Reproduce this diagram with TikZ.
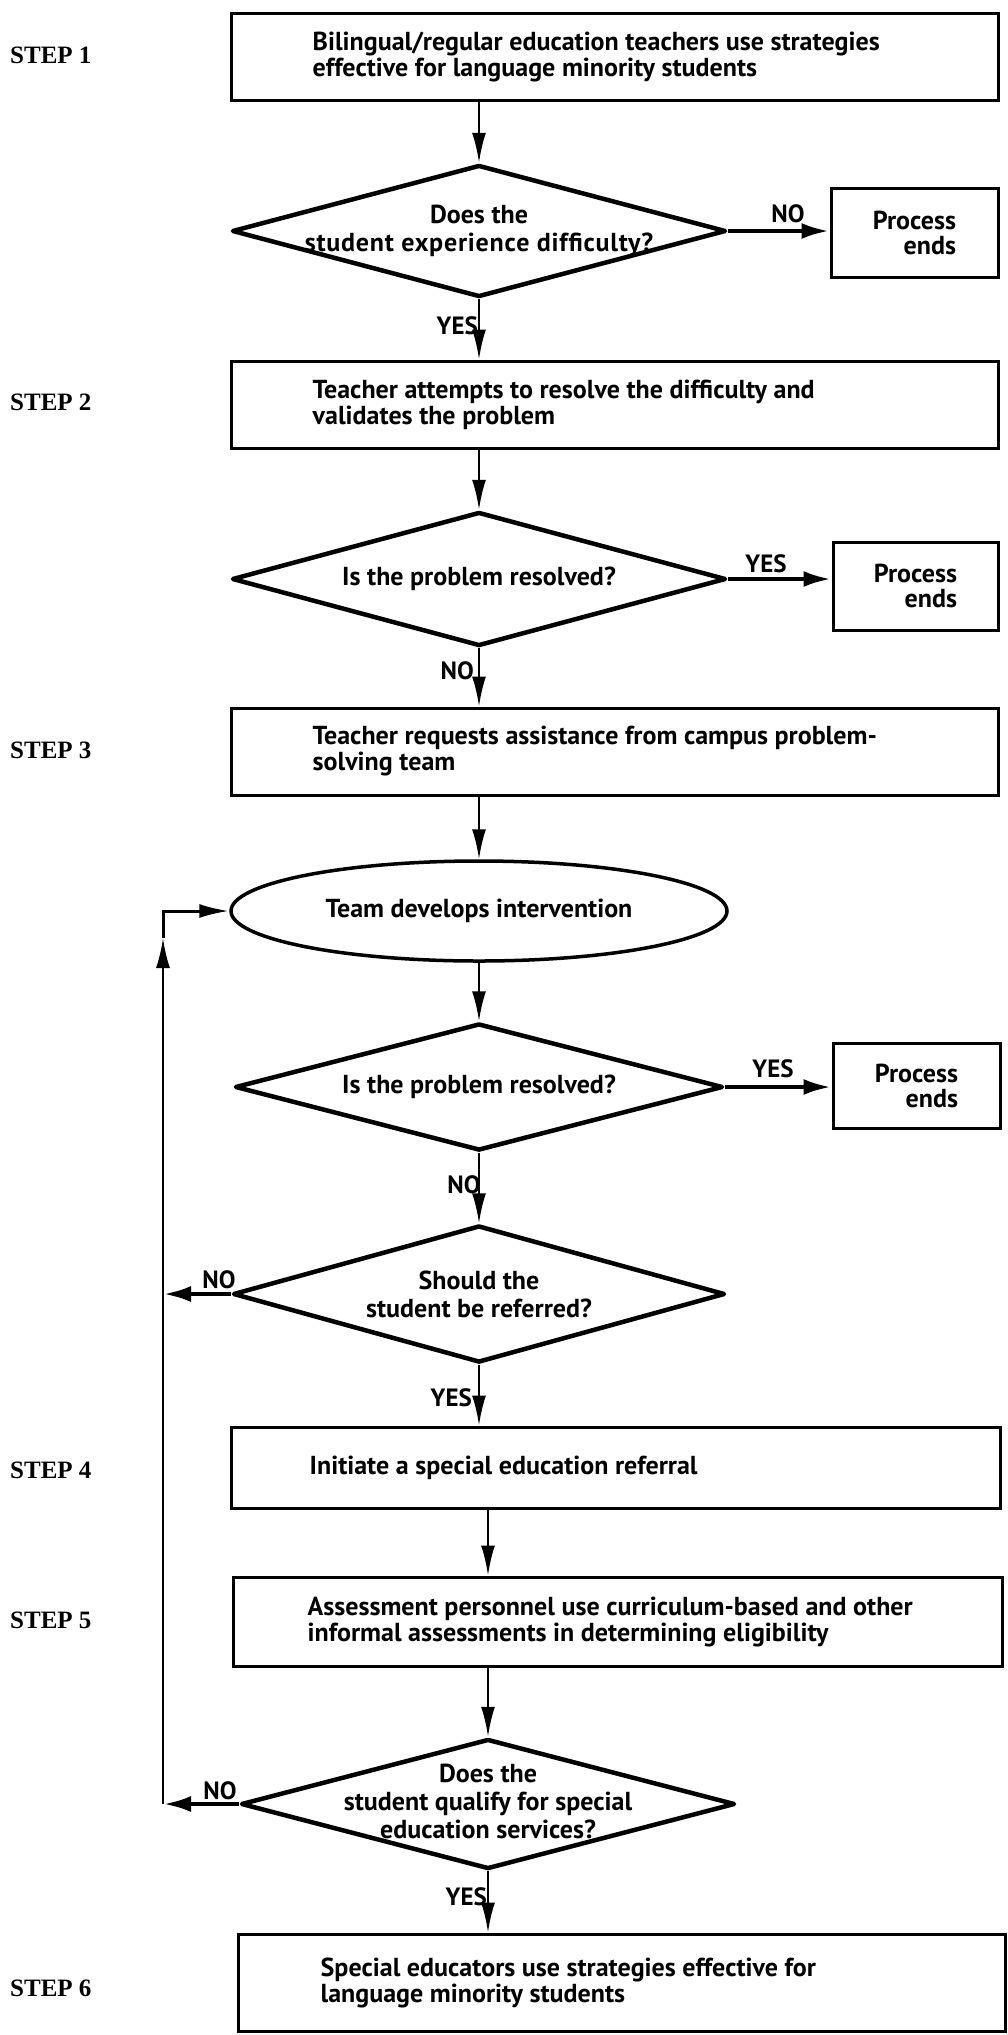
\documentclass[tikz,border=0pt]{standalone}
\usepackage{fontspec}
\setmainfont{PT Sans}
\newfontfamily\stepfont{Liberation Serif}
\usetikzlibrary{shapes.geometric,arrows.meta,calc}
\begin{document}
\begin{tikzpicture}[x=1pt,y=-1pt,
  font=\fontsize{26}{26}\selectfont\bfseries,
  box/.style={draw, line width=3pt, rectangle, inner sep=0pt},
  pebox/.style={draw, line width=3pt, rectangle, inner sep=0pt},
  dia/.style={draw, line width=4.5pt, diamond, inner sep=0pt, line join=round},
  ell/.style={draw, line width=3.5pt, ellipse, inner sep=0pt},
  ctxt/.style={align=center, inner sep=0pt, font=\fontsize{26}{28}\selectfont\bfseries},
  petxt/.style={align=right, inner sep=0pt, font=\fontsize{26}{25}\selectfont\bfseries},
  ltxt/.style={align=left, inner sep=0pt, anchor=west},
  steplbl/.style={font=\stepfont\fontsize{25}{30}\selectfont\bfseries, anchor=west, inner sep=0pt},
  vline/.style={line width=2.5pt, -{Latex[length=30pt,width=14pt]}},
  hline/.style={line width=4.5pt, -{Latex[length=28pt,width=16pt]}},
  yn/.style={inner sep=0pt, font=\fontsize{25}{25}\selectfont\bfseries},
]
\useasboundingbox (0,0) rectangle (1007,2035);
\fill[white] (0,0) rectangle (1007,2035);

% step labels
\node[steplbl] (s1) at (10,55) {STEP 1};
\node[steplbl] (s2) at (10,402) {STEP 2};
\node[steplbl] (s3) at (10,750) {STEP 3};
\node[steplbl] (s4) at (10,1470) {STEP 4};
\node[steplbl] (s5) at (10,1620) {STEP 5};
\node[steplbl] (s6) at (10,1988) {STEP 6};

% boxes
\node[box, minimum width=767, minimum height=87] (b1) at (614.5,56.5) {};
\node[ltxt] (t1) at ($(b1.west)+(83,0)$) {Bilingual/regular education teachers use strategies\\effective for language minority students};
\node[box, minimum width=767, minimum height=87] (b2) at (614.5,404.5) {};
\node[ltxt] (t2) at ($(b2.west)+(83,0)$) {Teacher attempts to resolve the difficulty and\\validates the problem};
\node[box, minimum width=767, minimum height=87] (b3) at (614.5,751.5) {};
\node[ltxt] (t3) at ($(b3.west)+(83,0)$) {Teacher requests assistance from campus problem-\\solving team};
\node[box, minimum width=769, minimum height=81] (b4) at (615.5,1467.5) {};
\node[ltxt] (t4) at ($(b4.west)+(80,0)$) {Initiate a special education referral};
\node[box, minimum width=769, minimum height=89] (b5) at (617.5,1621.5) {};
\node[ltxt] (t5) at ($(b5.west)+(76,0)$) {Assessment personnel use curriculum-based and other\\informal assessments in determining eligibility};
\node[box, minimum width=767, minimum height=97] (b6) at (621.5,1982.5) {};
\node[ltxt] (t6) at ($(b6.west)+(84,0)$) {Special educators use strategies effective for\\language minority students};

% decisions
\node[dia, minimum width=494, minimum height=132] (d1) at (479,231) {};
\node[ctxt] (dt1) at (d1) {Does the\\\addfontfeature{LetterSpace=3}student experience difficulty?};
\node[dia, minimum width=494, minimum height=134] (d2) at (479,579) {};
\node[ctxt] (dt2) at (d2) {Is the problem resolved?};
\node[ell, minimum width=496, minimum height=100] (e) at (479,911) {};
\node[ctxt] (et) at (e) {Team develops intervention};
\node[dia, minimum width=488, minimum height=127] (d3) at (479,1087) {};
\node[ctxt] (dt3) at (d3) {Is the problem resolved?};
\node[dia, minimum width=492, minimum height=137] (d4) at (479,1294) {};
\node[ctxt] (dt4) at (d4) {Should the\\student be referred?};
\node[dia, minimum width=494, minimum height=130] (d5) at (488,1804) {};
\node[ctxt] (dt5) at ($(d5)+(0,-3)$) {Does the\\student qualify for special\\education services?};

% process ends
\node[pebox, minimum width=167, minimum height=89] (p1) at (914.5,232.5) {};
\node[petxt] (pt1) at (p1) {Process\\ends};
\node[pebox, minimum width=165, minimum height=88] (p2) at (915.5,586) {};
\node[petxt] (pt2) at (p2) {Process\\ends};
\node[pebox, minimum width=167, minimum height=85] (p3) at (916.5,1085.5) {};
\node[petxt] (pt3) at (p3) {Process\\ends};

% loop coordinates
\coordinate (lt) at (163,911);
\coordinate (lu) at (163,938);

% vertical connectors
\draw[vline] (d1.north |- b1.south) -- (d1.north);
\draw[vline] (d1.south) -- (d1.south |- b2.north);
\draw[vline] (d2.north |- b2.south) -- (d2.north);
\draw[vline] (d2.south) -- (d2.south |- b3.north);
\draw[vline] (e.north |- b3.south) -- (e.north);
\draw[vline] (e.south) -- (d3.north);
\draw[vline] (d3.south) -- (d4.north);
\draw[vline] (d4.south) -- (d4.south |- b4.north);
\draw[vline] (d5.north |- b4.south) -- (d5.north |- b5.north);
\draw[vline] (d5.north |- b5.south) -- (d5.north);
\draw[vline] (d5.south) -- (d5.south |- b6.north);

% horizontal decision exits
\draw[hline] (d1.east) -- (d1.east -| p1.west);
\draw[hline] (d2.east) -- (d2.east -| p2.west);
\draw[hline] (d3.east) -- (d3.east -| p3.west);
\draw[hline] (d4.west) -- (d4.west -| lt);
\draw[hline] (d5.west) -- (d5.west -| lt);

% loop back
\draw[vline] (d5.west -| lt) -- (lu);
\draw[vline, line width=3pt] (lu) -- (lt) -- (e.west);

% yes/no labels
\node[yn, anchor=south] (n1) at (788,223) {NO};
\node[yn, anchor=east] (y1) at (478,326) {YES};
\node[yn, anchor=south] (y2) at (766,573) {YES};
\node[yn, anchor=east] (n2) at (474,671) {NO};
\node[yn, anchor=south] (y3) at (773,1078) {YES};
\node[yn] (n3) at (464,1185) {NO};
\node[yn, anchor=south] (n4) at (219,1289) {NO};
\node[yn, anchor=east] (y4) at (472,1398) {YES};
\node[yn, anchor=east] (y5) at (487,1897) {YES};
\node[yn, anchor=south] (n5) at (220,1800) {NO};
\end{tikzpicture}
\end{document}
